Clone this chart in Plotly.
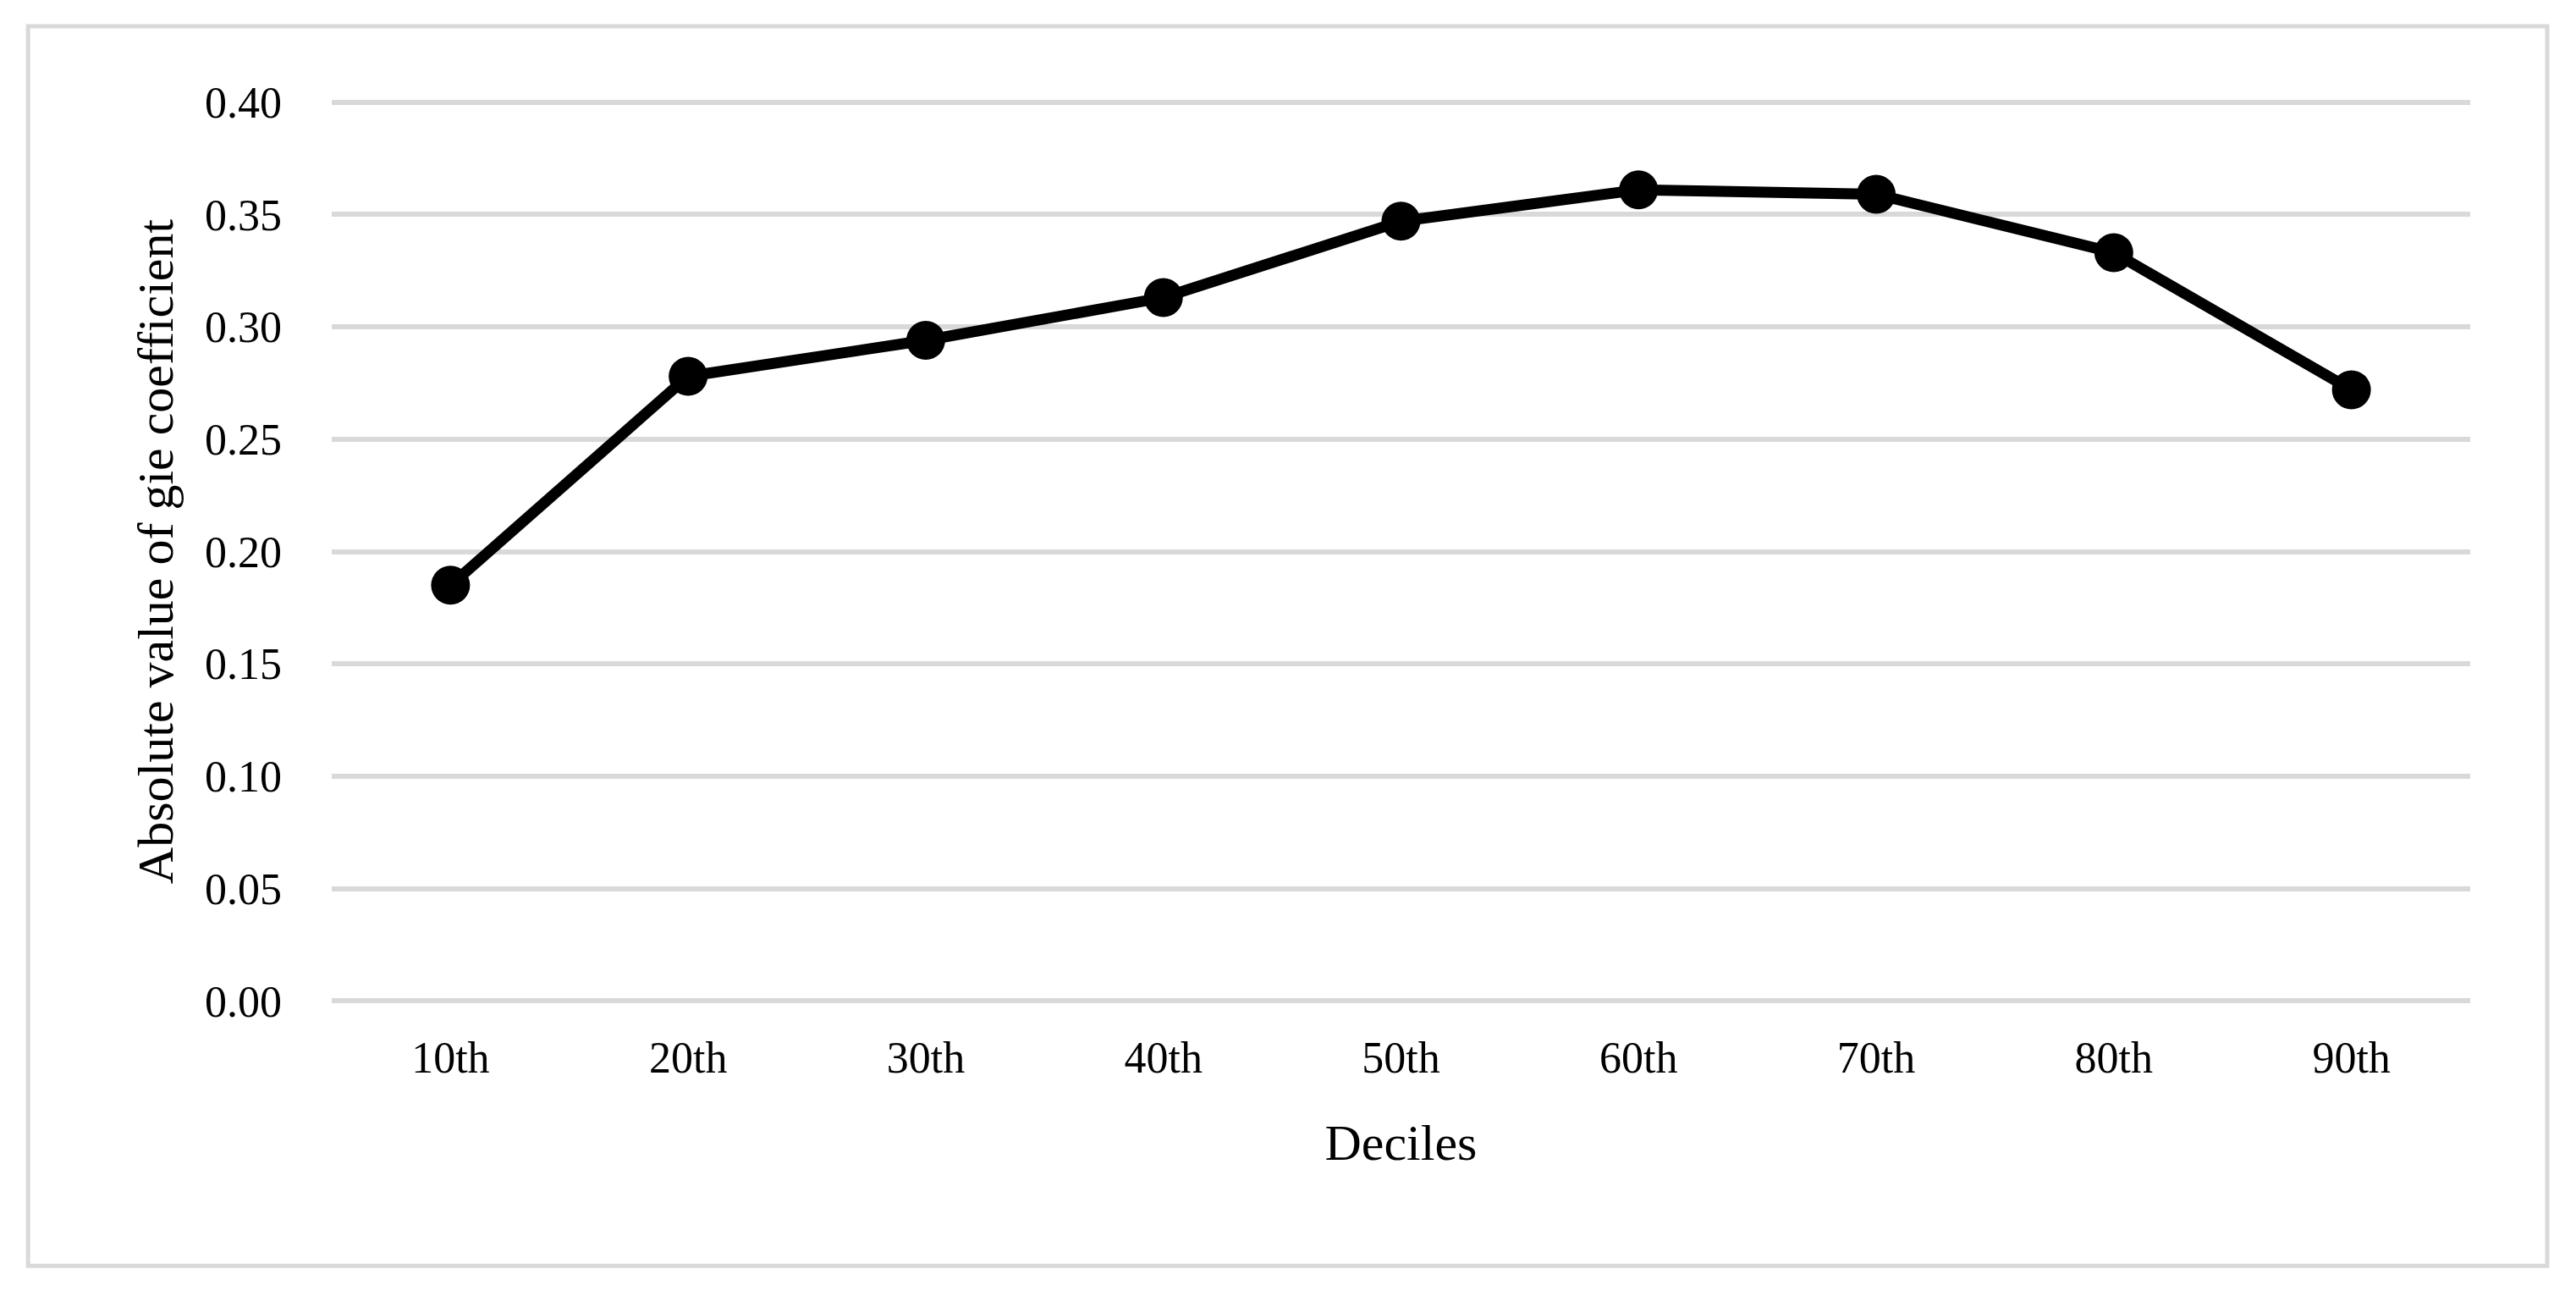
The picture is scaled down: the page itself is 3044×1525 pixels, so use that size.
import plotly.graph_objects as go

# deciles and the absolute gie coefficient
deciles = ['10th', '20th', '30th', '40th', '50th', '60th', '70th', '80th', '90th']
gie_abs = [0.185, 0.278, 0.294, 0.313, 0.347, 0.361, 0.359, 0.333, 0.272]
y_ticks = [0.00, 0.05, 0.10, 0.15, 0.20, 0.25, 0.30, 0.35, 0.40]

FONT = 'Liberation Serif'
GRID = '#d9d9d9'

fig = go.Figure()
fig.add_trace(go.Scatter(x=deciles, y=gie_abs,
                         mode='lines+markers',
                         line=dict(color='black', width=13),
                         marker=dict(color='black', size=46),
                         showlegend=False))

# light grey frame round the whole chart (paper coords, plot area is 0..1)
fig.add_shape(type='rect', xref='paper', yref='paper',
              x0=-0.142, x1=1.036, y0=-0.279, y1=1.073,
              line=dict(color=GRID, width=5), layer='below')

# page body has an 8px margin, so margins are pulled in by that much
fig.update_layout(
    width=3044, height=1525,
    margin=dict(l=384, r=133, t=102, b=340),
    paper_bgcolor='white', plot_bgcolor='white',
    font=dict(family=FONT, color='black', size=52),
)
fig.update_xaxes(type='category', range=[-0.5, 8.5], automargin=False,
                 showgrid=False, showline=False, zeroline=False,
                 ticks='', ticklabelstandoff=21,
                 tickfont=dict(family=FONT, size=52, color='black'),
                 title=dict(text='Deciles', standoff=50,
                            font=dict(family=FONT, size=60, color='black')))
# pad the range a touch so the 0.00 and 0.40 gridlines get drawn
fig.update_yaxes(range=[-0.004, 0.404], tickvals=y_ticks, automargin=False,
                 ticktext=['%.2f' % v for v in y_ticks],
                 showgrid=True, gridcolor=GRID, gridwidth=6,
                 showline=False, zeroline=False,
                 ticks='', ticklabelstandoff=58,
                 tickfont=dict(family=FONT, size=52, color='black'),
                 title=dict(text='Absolute value of gie coefficient', standoff=18,
                            font=dict(family=FONT, size=60, color='black')))

fig.write_html('out.html')
